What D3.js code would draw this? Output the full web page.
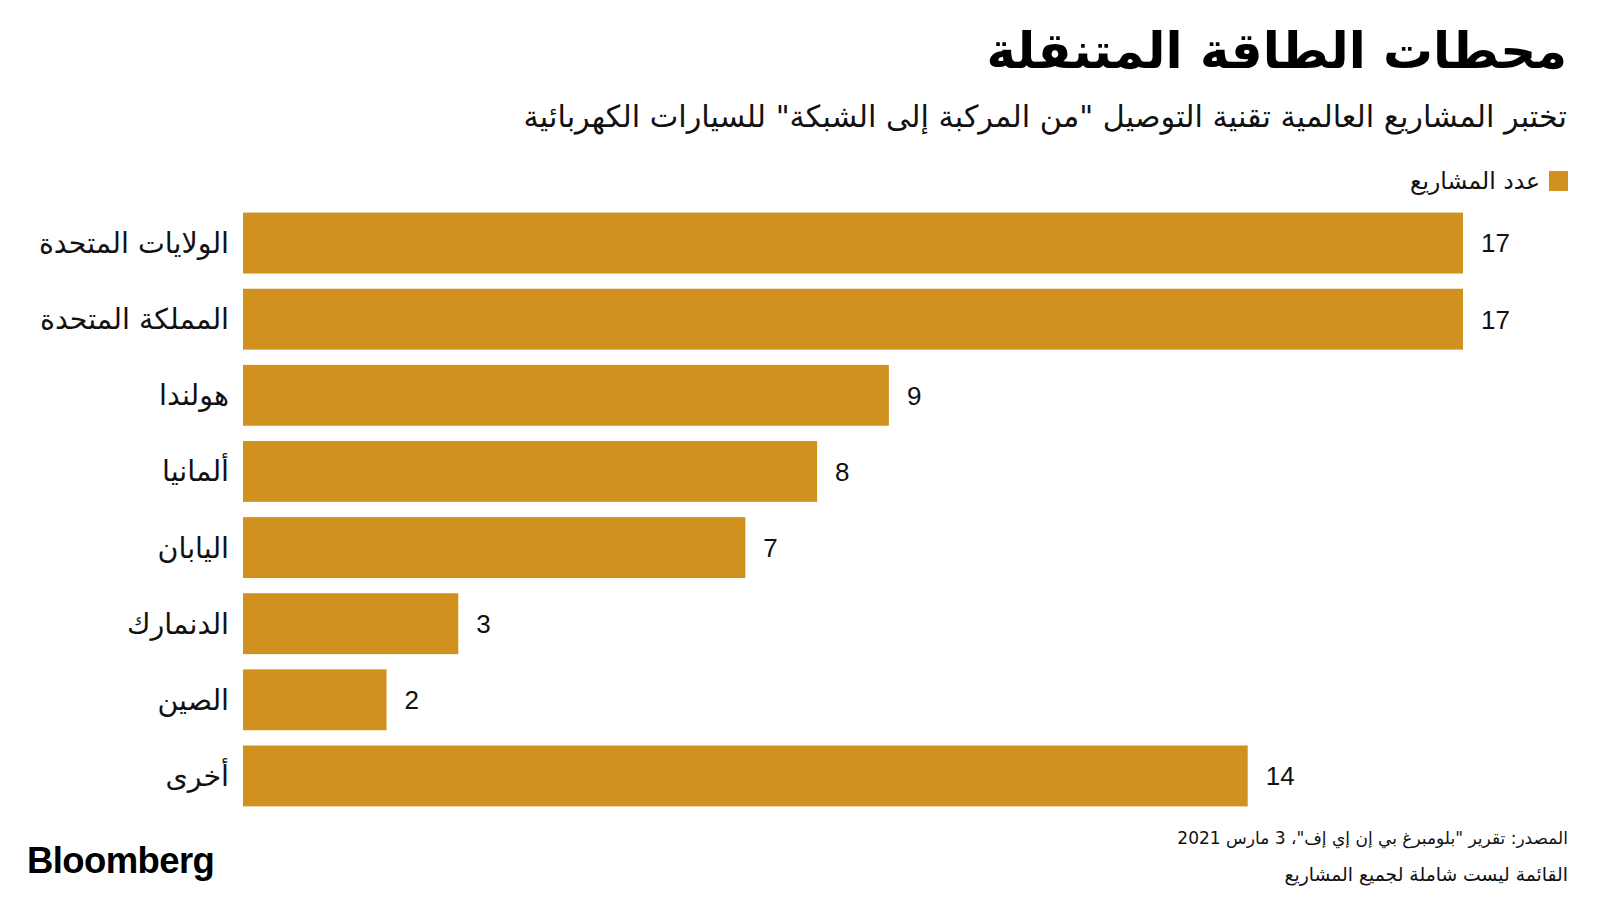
<!DOCTYPE html>
<html><head><meta charset="utf-8">
<script src="https://cdn.jsdelivr.net/npm/d3@7"></script>
<style>
html,body{margin:0;padding:0;background:#fff;}
svg{display:block;}
.ar{font-family:"DejaVu Sans","Noto Sans",sans-serif;}
</style></head>
<body>
<svg id="chart" width="1600" height="900"></svg>
<script>
const categories = ["الولايات المتحدة","المملكة المتحدة","هولندا","ألمانيا","اليابان","الدنمارك","الصين","أخرى"];
const projectCounts = [17,17,9,8,7,3,2,14];
const seriesName = "عدد المشاريع";
const titleText = "محطات الطاقة المتنقلة";
const subtitleText = "تختبر المشاريع العالمية تقنية التوصيل \"من المركبة إلى الشبكة\" للسيارات الكهربائية";
const sourceText = "المصدر: تقرير \"بلومبرغ بي إن إي إف\"، 3 مارس 2021";
const noteText = "القائمة ليست شاملة لجميع المشاريع";

const barColor = "#D0911E";
const svg = d3.select("#chart");

const x = d3.scaleLinear().domain([0,17]).range([243,1463]);
const y = d3.scaleBand().domain(categories).range([205,814]).paddingInner(0.2).paddingOuter(0.1);

const data = categories.map((c,i)=>({c, v:projectCounts[i]}));

svg.selectAll("rect.bar").data(data).enter().append("rect")
  .attr("class","bar")
  .attr("x", x(0))
  .attr("y", d=>y(d.c))
  .attr("width", d=>x(d.v)-x(0))
  .attr("height", y.bandwidth())
  .attr("fill", barColor);

svg.selectAll("text.val").data(data).enter().append("text")
  .attr("class","val")
  .attr("x", d=>x(d.v)+18)
  .attr("y", d=>y(d.c)+y.bandwidth()/2)
  .attr("dy","0.36em")
  .attr("font-family","Liberation Sans, Arial, sans-serif")
  .attr("font-size",26)
  .attr("fill","#111")
  .text(d=>d.v);

svg.selectAll("text.cat").data(data).enter().append("text")
  .attr("class","cat ar")
  .attr("x", 229)
  .attr("y", d=>y(d.c)+y.bandwidth()/2)
  .attr("dy","0.35em")
  .attr("direction","rtl")
  .attr("text-anchor","start")
  .attr("font-size",28.5)
  .attr("fill","#111")
  .text(d=>d.c);

// title
svg.append("text").attr("class","ar")
  .attr("x",1567).attr("y",68)
  .attr("direction","rtl").attr("text-anchor","start")
  .attr("font-size",49.8).attr("font-weight","bold").attr("fill","#000")
  .text(titleText);

svg.append("text").attr("class","ar")
  .attr("x",1567).attr("y",127)
  .attr("direction","rtl").attr("text-anchor","start")
  .attr("font-size",30.3).attr("fill","#111")
  .text(subtitleText);

// legend
svg.append("rect").attr("x",1549).attr("y",171).attr("width",19).attr("height",20).attr("fill",barColor);
svg.append("text").attr("class","ar")
  .attr("x",1540).attr("y",189)
  .attr("direction","rtl").attr("text-anchor","start")
  .attr("font-size",23.5).attr("fill","#111")
  .text(seriesName);

// footer
svg.append("text").attr("class","ar")
  .attr("x",1568).attr("y",844)
  .attr("direction","rtl").attr("text-anchor","start")
  .attr("font-size",17).attr("fill","#111")
  .text(sourceText);
svg.append("text").attr("class","ar")
  .attr("x",1568).attr("y",881)
  .attr("direction","rtl").attr("text-anchor","start")
  .attr("font-size",18.8).attr("fill","#111")
  .text(noteText);

svg.append("text")
  .attr("x",27).attr("y",873)
  .attr("font-family","Liberation Sans, Arial, sans-serif")
  .attr("font-size",36.5).attr("font-weight","bold").attr("fill","#000")
  .attr("letter-spacing","-0.6")
  .text("Bloomberg");
</script>
</body></html>
